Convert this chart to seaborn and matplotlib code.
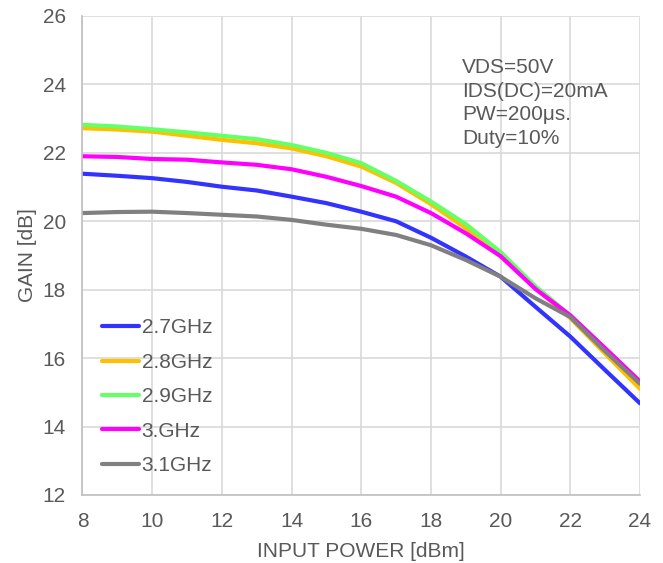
import numpy as np
import pandas as pd
import matplotlib
matplotlib.use("Agg")
import matplotlib.pyplot as plt
import seaborn as sns

# Data
pin = [8, 9, 10, 11, 12, 13, 14, 15, 16, 17, 18, 19, 20, 21, 22, 23, 24]
g_27 = [21.39, 21.33, 21.26, 21.15, 21.01, 20.90, 20.72, 20.53, 20.28, 20.00, 19.52, 18.97, 18.38, 17.50, 16.63, 15.65, 14.68]
g_28 = [22.72, 22.68, 22.62, 22.50, 22.38, 22.28, 22.13, 21.90, 21.60, 21.12, 20.50, 19.80, 18.98, 18.05, 17.17, 16.13, 15.10]
g_29 = [22.82, 22.77, 22.69, 22.60, 22.50, 22.40, 22.23, 22.00, 21.70, 21.18, 20.58, 19.92, 19.10, 18.10, 17.25, 16.28, 15.30]
g_30 = [21.90, 21.88, 21.82, 21.80, 21.72, 21.65, 21.52, 21.30, 21.03, 20.72, 20.24, 19.65, 18.98, 18.02, 17.25, 16.29, 15.32]
g_31 = [20.24, 20.27, 20.28, 20.24, 20.19, 20.14, 20.04, 19.90, 19.78, 19.60, 19.30, 18.87, 18.38, 17.75, 17.20, 16.20, 15.25]
labels = ["2.7GHz", "2.8GHz", "2.9GHz", "3.GHz", "3.1GHz"]
colors = ["#3333FF", "#FFC000", "#66FF66", "#FF00FF", "#808080"]
note = "VDS=50V\nIDS(DC)=20mA\nPW=200\u03bcs.\nDuty=10%"

series = [g_27, g_28, g_29, g_30, g_31]
df = pd.concat([pd.DataFrame({"pin": pin, "gain": s, "freq": lab}) for s, lab in zip(series, labels)],
               ignore_index=True)

sns.set_style("white")
plt.rcParams["font.family"] = ["Liberation Sans", "DejaVu Sans"]
txt = "#595959"
fs = 15

fig = plt.figure(figsize=(6.63, 5.63), dpi=100)
ax = fig.add_axes([0.1244, 0.1208, 0.9653 - 0.1244, 0.9716 - 0.1208])
sns.lineplot(data=df, x="pin", y="gain", hue="freq", hue_order=labels,
             palette=dict(zip(labels, colors)), linewidth=3, ax=ax)

ax.set_xlim(8, 24)
ax.set_ylim(12, 26)
ax.set_xticks(np.arange(8, 25, 2))
ax.set_yticks(np.arange(12, 27, 2))
ax.grid(True, color="#D9D9D9", linewidth=1.2)
ax.set_axisbelow(True)
for s in ["top", "right"]:
    ax.spines[s].set_visible(False)
for s in ["left", "bottom"]:
    ax.spines[s].set_color("#BFBFBF")
    ax.spines[s].set_linewidth(1.2)
ax.tick_params(axis="both", labelsize=fs, colors=txt, length=0)
ax.tick_params(axis="x", pad=12)
ax.tick_params(axis="y", pad=12)
ax.set_xlabel("INPUT POWER [dBm]", fontsize=fs, color=txt, labelpad=8)
ax.set_ylabel("GAIN [dB]", fontsize=fs, color=txt, labelpad=4)

ax.text(0.681, 0.912, note, transform=ax.transAxes, fontsize=fs, color=txt,
        va="top", ha="left", linespacing=1.3)

leg = ax.legend(loc="upper left", bbox_to_anchor=(0.02, 0.386), frameon=False,
                fontsize=fs, handlelength=1.8, handletextpad=0.1, labelspacing=0.74,
                borderaxespad=0)
for t in leg.get_texts():
    t.set_color(txt)

fig.savefig("out.png", dpi=100)
